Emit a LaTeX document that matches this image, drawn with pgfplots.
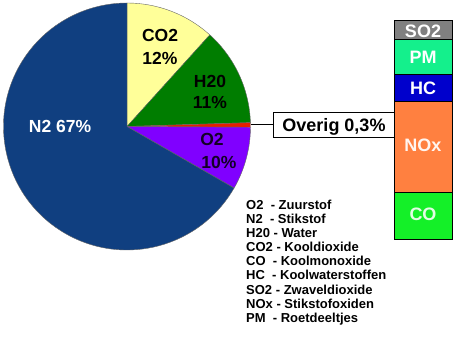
\documentclass[border=0pt]{standalone}
\usepackage{fontspec}
\setmainfont{Liberation Sans}
\usepackage{pgfplots}
\pgfplotsset{compat=1.18}
\definecolor{cN}{RGB}{16,63,128}
\definecolor{cCO2}{RGB}{255,255,153}
\definecolor{cH}{RGB}{0,125,0}
\definecolor{cO}{RGB}{128,0,255}
\definecolor{cRest}{RGB}{230,30,0}
\definecolor{cSO}{RGB}{128,128,128}
\definecolor{cPM}{RGB}{20,240,140}
\definecolor{cHC}{RGB}{0,0,204}
\definecolor{cNOx}{RGB}{255,128,64}
\definecolor{cCO}{RGB}{20,240,40}
\begin{document}
\begin{tikzpicture}
\useasboundingbox (0,0) rectangle (458pt,347pt);
% pie slice sizes (percent of the drawn circle), clockwise from the top
\pgfmathsetmacro\aA{90}
\pgfmathsetmacro\aB{\aA-3.6*11.7}% CO2
\pgfmathsetmacro\aC{\aB-3.6*12.8}% H2O
\pgfmathsetmacro\aD{\aC-3.6*0.6}% Overig
\pgfmathsetmacro\aE{\aD-3.6*8.2}% O2
\pgfmathsetmacro\aF{\aE-3.6*66.7}% N2
\begin{axis}[width=458pt,height=347pt,scale only axis,
  xmin=0,xmax=458,ymin=0,ymax=347,hide axis,clip=false]
\filldraw[fill=cCO2,draw=black!60,line width=0.4pt] (axis cs:127,220.5) -- ++(\aA:123.5pt) arc[start angle=\aA,end angle=\aB,radius=123.5pt] -- cycle;
\filldraw[fill=cH,draw=black!60,line width=0.4pt] (axis cs:127,220.5) -- ++(\aB:123.5pt) arc[start angle=\aB,end angle=\aC,radius=123.5pt] -- cycle;
\filldraw[fill=cRest,draw=black!60,line width=0.4pt] (axis cs:127,220.5) -- ++(\aC:123.5pt) arc[start angle=\aC,end angle=\aD,radius=123.5pt] -- cycle;
\filldraw[fill=cO,draw=black!60,line width=0.4pt] (axis cs:127,220.5) -- ++(\aD:123.5pt) arc[start angle=\aD,end angle=\aE,radius=123.5pt] -- cycle;
\filldraw[fill=cN,draw=black!60,line width=0.4pt] (axis cs:127,220.5) -- ++(\aE:123.5pt) arc[start angle=\aE,end angle=\aF,radius=123.5pt] -- cycle;
% pie labels
\begin{scope}[every node/.style={font=\fontsize{17.5}{18}\bfseries\selectfont,anchor=base,inner sep=0pt}]
\node at (axis cs:160,305.3) {CO2};
\node at (axis cs:160,282) {12\%};
\node at (axis cs:210,259.7) {H20};
\node at (axis cs:210,238) {11\%};
\node[text=black!85!cO] at (axis cs:212,201.3) {O2};
\node[text=black!85!cO] at (axis cs:219,178.7) {10\%};
\node[text=white] at (axis cs:60,214.3) {N2 67\%};
\end{scope}
% Overig call-out
\draw[line width=0.6pt] (axis cs:250.5,222.5) -- (axis cs:273,222.5);
\draw[line width=0.8pt,fill=white] (axis cs:273,210) rectangle (axis cs:395,235);
\node[font=\fontsize{18}{18}\bfseries\selectfont,anchor=base,inner sep=0pt] at (axis cs:334,215.3) {Overig 0,3\%};
% legend
\node[anchor=base west,inner sep=0pt,font=\fontsize{13}{14.1}\bfseries\selectfont] at (axis cs:246,137.5)
{\begin{tabular}[t]{@{}l@{}}
O2\ \ - Zuurstof\\
N2\ \ - Stikstof\\
H20 - Water\\
CO2 - Kooldioxide\\
CO\ \ - Koolmonoxide\\
HC\ \ - Koolwaterstoffen\\
SO2 - Zwaveldioxide\\
NOx - Stikstofoxiden\\
PM\ \ - Roetdeeltjes
\end{tabular}};
\end{axis}
\begin{axis}[at={(394pt,108pt)},anchor=south west,
  width=58pt,height=219pt,scale only axis,
  xmin=-0.5,xmax=0.5,ymin=0,ymax=100,hide axis,clip=false,
  ybar stacked,bar width=58pt,
  every axis plot/.append style={draw=black,line width=0.8pt}]
\addplot[fill=cCO] coordinates {(0,21.5)};
\addplot[fill=cNOx] coordinates {(0,41.5)};
\addplot[fill=cHC] coordinates {(0,12.3)};
\addplot[fill=cPM] coordinates {(0,16.0)};
\addplot[fill=cSO] coordinates {(0,8.7)};
\end{axis}
\begin{scope}[every node/.style={font=\fontsize{18}{18}\bfseries\selectfont,anchor=base,inner sep=0pt,text=white}]
\node at (423pt,347pt-37.3pt) {SO2};
\node at (423pt,347pt-63.3pt) {PM};
\node at (423pt,347pt-94.3pt) {HC};
\node[text=white!92!cNOx] at (423pt,347pt-152pt) {NOx};
\node[text=white!88!cCO] at (423pt,347pt-221pt) {CO};
\end{scope}
\end{tikzpicture}
\end{document}
